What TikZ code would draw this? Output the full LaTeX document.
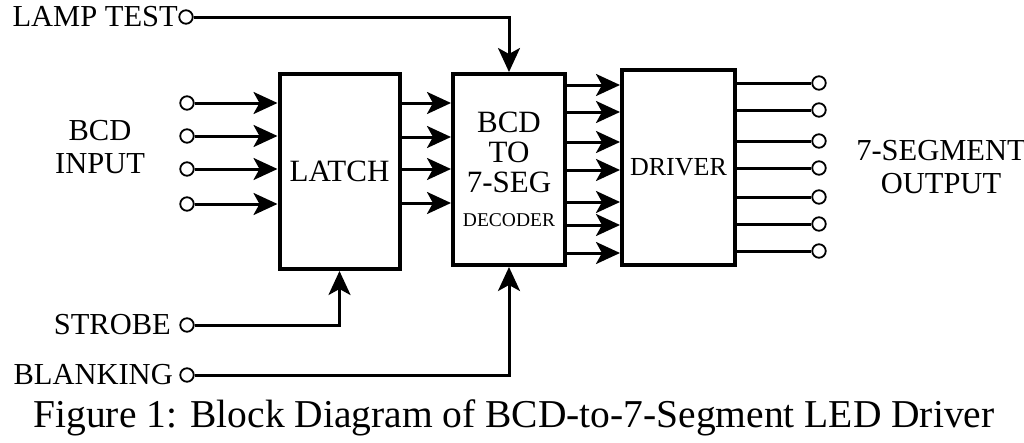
\documentclass[tikz,border=0pt]{standalone}
\usepackage{fontspec}
\setmainfont{Liberation Serif}
\usetikzlibrary{arrows.meta,positioning}

\begin{document}
\begin{tikzpicture}[x=1pt,y=-1pt,
  box/.style={draw,line width=4pt,inner sep=0pt,align=center,
    font=\fontsize{31}{30}\selectfont},
  pin/.style={circle,draw,line width=1.8pt,fill=white,minimum size=13.5pt,inner sep=0pt},
  wire/.style={line width=3pt},
  sig/.style={wire,-{Stealth[length=24pt,width=22pt,inset=6pt]}},
  lbl/.style={font=\fontsize{30.5}{33}\selectfont,align=center,inner sep=0pt}]
  \useasboundingbox (0,0) rectangle (1024,442);
  % Blocks
  \node[box,minimum width=120,minimum height=195] (latch) at (339.5,171.5) {LATCH};
  \node[box,minimum width=112,minimum height=191] (dec) at (509,169.5)
    {BCD\\TO\\7-SEG\\[4pt]{\fontsize{19.5}{19}\selectfont DECODER}};
  \node[box,minimum width=113,minimum height=195,font=\fontsize{26}{26}\selectfont]
    (drv) at (678.5,167.5) {DRIVER};
  % BCD inputs
  \node[lbl] (bcdin) at (100,147) {BCD\\INPUT};
  \foreach \y [count=\i] in {103,136,169,204} {
    \node[pin] (in\i) at (187,\y) {};
    \draw[sig] (in\i) -- (in\i -| latch.west);
  }
  % Latch to decoder
  \foreach \y in {103,137,169,203}
    \draw[sig] (latch.east |- 0,\y) -- (dec.west |- 0,\y);
  % Decoder to driver
  \foreach \y in {85,112,142,170,202,225,253}
    \draw[sig] (dec.east |- 0,\y) -- (drv.west |- 0,\y);
  % Segment outputs
  \foreach \y [count=\i] in {83,110,141,168,197,224,251} {
    \node[pin] (out\i) at (819,\y) {};
    \draw[wire] (drv.east |- out\i) -- (out\i);
  }
  \node[lbl] (segout) at (941,167) {7-SEGMENT\\OUTPUT};
  % Control lines
  \node[pin] (lamp) at (186,17) {};
  \node[lbl,anchor=east] (lamptxt) at (178,17) {LAMP TEST};
  \draw[sig] (lamp) -| (dec.north);
  \node[pin] (strobe) at (187,325) {};
  \node[lbl,anchor=east] (strobetxt) at (171,325) {STROBE};
  \draw[sig] (strobe) -| (latch.south);
  \node[pin] (blank) at (187,375) {};
  \node[lbl,anchor=east] (blanktxt) at (173,375) {BLANKING};
  \draw[sig] (blank) -| (dec.south);
  % Caption
  \node[lbl,font=\fontsize{39.5}{40}\selectfont] (caption) at (514,418)
    {Figure 1: Block Diagram of BCD-to-7-Segment LED Driver};
\end{tikzpicture}
\end{document}
